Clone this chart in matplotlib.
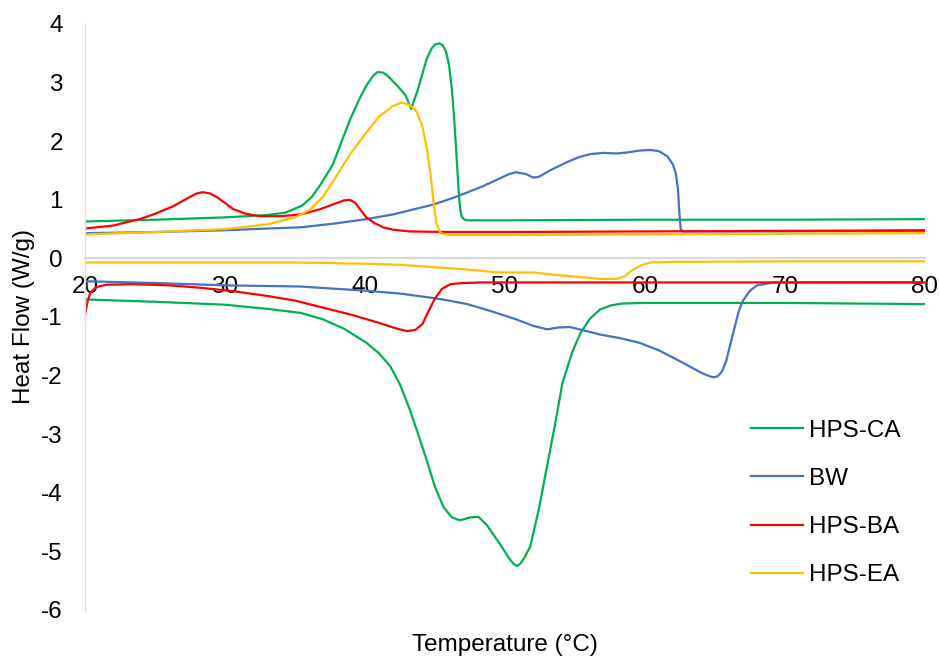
import numpy as np
import matplotlib
matplotlib.use("Agg")
import matplotlib.pyplot as plt

plt.rcParams['font.family'] = ['Liberation Sans', 'DejaVu Sans']
plt.rcParams['font.size'] = 17.5
plt.rcParams['axes.unicode_minus'] = False

labels = ["HPS-CA", "BW", "HPS-BA", "HPS-EA"]
colors = ["#00b050", "#4472c4", "#ff0000", "#ffc000"]

# heating branches (upper curves)
ca_heat_t = [20, 25, 30, 33, 34.3, 35.5, 36.2, 36.8, 37.7, 38.9, 39.6, 40.1, 40.6, 40.9, 41.3, 41.6, 42.3, 42.9, 43.3,
             43.8, 44.4, 44.75, 45.0, 45.3, 45.55, 45.8, 46.0, 46.2, 46.35, 46.5, 46.6, 46.7, 46.8, 46.9, 47.05, 47.3,
             48, 50, 60, 70, 80]
ca_heat_hf = [0.63, 0.66, 0.70, 0.74, 0.78, 0.90, 1.05, 1.25, 1.60, 2.35, 2.72, 2.95, 3.12, 3.18, 3.17, 3.12, 2.95, 2.78, 2.55,
              2.90, 3.40, 3.58, 3.65, 3.67, 3.64, 3.52, 3.30, 2.90, 2.45, 1.90, 1.50, 1.10, 0.85, 0.72, 0.67, 0.65,
              0.65, 0.65, 0.66, 0.66, 0.67]

bw_heat_t = [20, 25, 30, 33, 35.4, 38, 40.1, 42, 44.9, 46.5, 48.4, 49.5, 50.3, 50.8, 51.5, 52.0, 52.4,
             53.2, 54.4, 55.3, 56.1, 57, 58, 58.8, 59.6, 60.4, 61.0, 61.6, 62.0, 62.2, 62.35, 62.45, 62.55, 62.7, 70, 80]
bw_heat_hf = [0.43, 0.45, 0.48, 0.51, 0.53, 0.60, 0.67, 0.75, 0.92, 1.05, 1.23, 1.35, 1.44, 1.47, 1.44, 1.38, 1.39,
              1.50, 1.64, 1.73, 1.78, 1.80, 1.79, 1.81, 1.84, 1.85, 1.83, 1.74, 1.60, 1.45, 1.20, 0.80, 0.50, 0.46, 0.46, 0.47]

ba_heat_t = [20, 22, 23.9, 25, 26.3, 27.5, 28.0, 28.4, 28.9, 29.4, 29.8, 30.6, 31.5, 32.5, 34, 35.4, 36.8, 37.7, 38.5,
             38.9, 39.3, 39.7, 40.1, 40.7, 41.3, 42, 43.2, 46, 50, 60, 70, 80]
ba_heat_hf = [0.51, 0.56, 0.67, 0.76, 0.89, 1.05, 1.11, 1.13, 1.11, 1.05, 0.98, 0.84, 0.76, 0.72, 0.72, 0.75, 0.84, 0.92, 0.99,
              1.00, 0.95, 0.82, 0.70, 0.60, 0.53, 0.49, 0.46, 0.45, 0.45, 0.46, 0.47, 0.48]

ea_heat_t = [20, 25, 30, 33, 35, 36, 37, 38, 39, 40, 41, 42, 42.6, 43.2, 43.7, 44.1, 44.4, 44.7, 44.9,
             45.1, 45.4, 46, 50, 60, 70, 80]
ea_heat_hf = [0.41, 0.45, 0.50, 0.58, 0.70, 0.82, 1.05, 1.42, 1.80, 2.12, 2.42, 2.60, 2.66, 2.62, 2.50, 2.25, 1.90, 1.40, 0.95,
              0.60, 0.43, 0.40, 0.40, 0.41, 0.42, 0.43]

# cooling branches (lower curves)
ca_cool_t = [20, 25, 30, 33, 35.4, 37, 38.5, 40.1, 41, 41.8, 42.5, 43.2, 43.8, 44.4, 45, 45.6, 46.2, 46.8,
             47.5, 48.1, 48.7, 49.6, 50.3, 50.6, 50.85, 51.1, 51.4, 51.8, 52.4, 53, 53.6, 54.1, 54.8, 55.4, 56.1, 56.8,
             57.6, 58.4, 60, 70, 80]
ca_cool_hf = [-0.70, -0.74, -0.79, -0.86, -0.93, -1.04, -1.20, -1.44, -1.62, -1.84, -2.15, -2.58, -3.00, -3.44, -3.90, -4.24, -4.42, -4.47,
              -4.42, -4.41, -4.55, -4.86, -5.12, -5.21, -5.25, -5.21, -5.10, -4.92, -4.30, -3.55, -2.80, -2.13, -1.60, -1.27, -1.02, -0.87,
              -0.80, -0.77, -0.76, -0.76, -0.78]

bw_cool_t = [20, 25, 30, 35.4, 38, 40, 42.5, 45, 46, 47.3, 49, 50.8, 52, 53, 53.8, 54.6, 55.5, 56.8, 58.2,
             59.6, 61, 62.7, 64, 64.6, 64.9, 65.2, 65.5, 65.8, 66.3, 66.7, 67, 67.5, 68, 69.2, 75, 80]
bw_cool_hf = [-0.39, -0.42, -0.46, -0.48, -0.52, -0.55, -0.60, -0.68, -0.72, -0.78, -0.90, -1.04, -1.15, -1.21, -1.18, -1.17, -1.22, -1.30, -1.36,
              -1.44, -1.57, -1.78, -1.95, -2.01, -2.03, -2.01, -1.93, -1.75, -1.27, -0.90, -0.72, -0.55, -0.46, -0.41, -0.41, -0.41]

ba_cool_t = [20, 20.2, 20.4, 20.8, 21.5, 23.4, 26, 28.2, 30.6, 33, 35, 37, 39, 41, 42.3, 43, 43.6, 44.1,
             44.5, 45.0, 45.5, 46.1, 47, 48.4, 60, 70, 80]
ba_cool_hf = [-0.95, -0.72, -0.58, -0.49, -0.45, -0.44, -0.46, -0.50, -0.56, -0.64, -0.72, -0.84, -0.96, -1.10, -1.20, -1.24, -1.22, -1.12,
              -0.92, -0.68, -0.52, -0.44, -0.42, -0.41, -0.41, -0.41, -0.41]

ea_cool_t = [20, 30, 35, 40, 42.5, 45, 47.3, 49.6, 52, 54.4, 56.8, 58, 58.5, 59.1, 59.8, 60.4, 62, 70, 80]
ea_cool_hf = [-0.07, -0.07, -0.07, -0.09, -0.11, -0.15, -0.19, -0.24, -0.24, -0.30, -0.35, -0.35, -0.31, -0.20, -0.11, -0.07, -0.06, -0.05, -0.05]

heat = [(ca_heat_t, ca_heat_hf), (bw_heat_t, bw_heat_hf), (ba_heat_t, ba_heat_hf), (ea_heat_t, ea_heat_hf)]
cool = [(ca_cool_t, ca_cool_hf), (bw_cool_t, bw_cool_hf), (ba_cool_t, ba_cool_hf), (ea_cool_t, ea_cool_hf)]

fig = plt.figure(figsize=(9.4, 6.59), dpi=100)
ax = fig.add_axes([85 / 940, 1 - 610 / 659, 840 / 940, 586 / 659])

for (ht, hf), (ct, cf), lab, col in zip(heat, cool, labels, colors):
    ax.plot(ht, hf, color=col, lw=1.6, label=lab, solid_joinstyle='round')
    ax.plot(ct, cf, color=col, lw=1.6, label='_nolegend_', solid_joinstyle='round')

ax.set_xlim(20, 80)
ax.set_ylim(-6, 4)
ax.set_xticks(np.arange(20, 81, 10))
ax.set_yticks(np.arange(-6, 5, 1))

for s in ['top', 'right']:
    ax.spines[s].set_visible(False)
ax.spines['bottom'].set_position(('data', 0))
ax.spines['bottom'].set_color('#d9d9d9')
ax.spines['bottom'].set_linewidth(1.5)
ax.spines['left'].set_color('#d9d9d9')
ax.spines['left'].set_linewidth(1.0)
ax.spines['bottom'].set_zorder(0)
ax.tick_params(axis='x', length=0, pad=13)
ax.tick_params(axis='y', length=0, pad=16)

ax.set_xlabel("Temperature (°C)", va='center')
ax.xaxis.set_label_coords(0.5, -0.06)
ax.set_ylabel("Heat Flow (W/g)", va='center')
ax.yaxis.set_label_coords(-0.073, 0.5)

ax.legend(loc='center left', bbox_to_anchor=(751 / 940, 1 - 503 / 659), bbox_transform=fig.transFigure,
          frameon=False, handlelength=2.15, handletextpad=0.25, labelspacing=1.08,
          borderpad=0, borderaxespad=0)

fig.savefig("out.png", dpi=100)
